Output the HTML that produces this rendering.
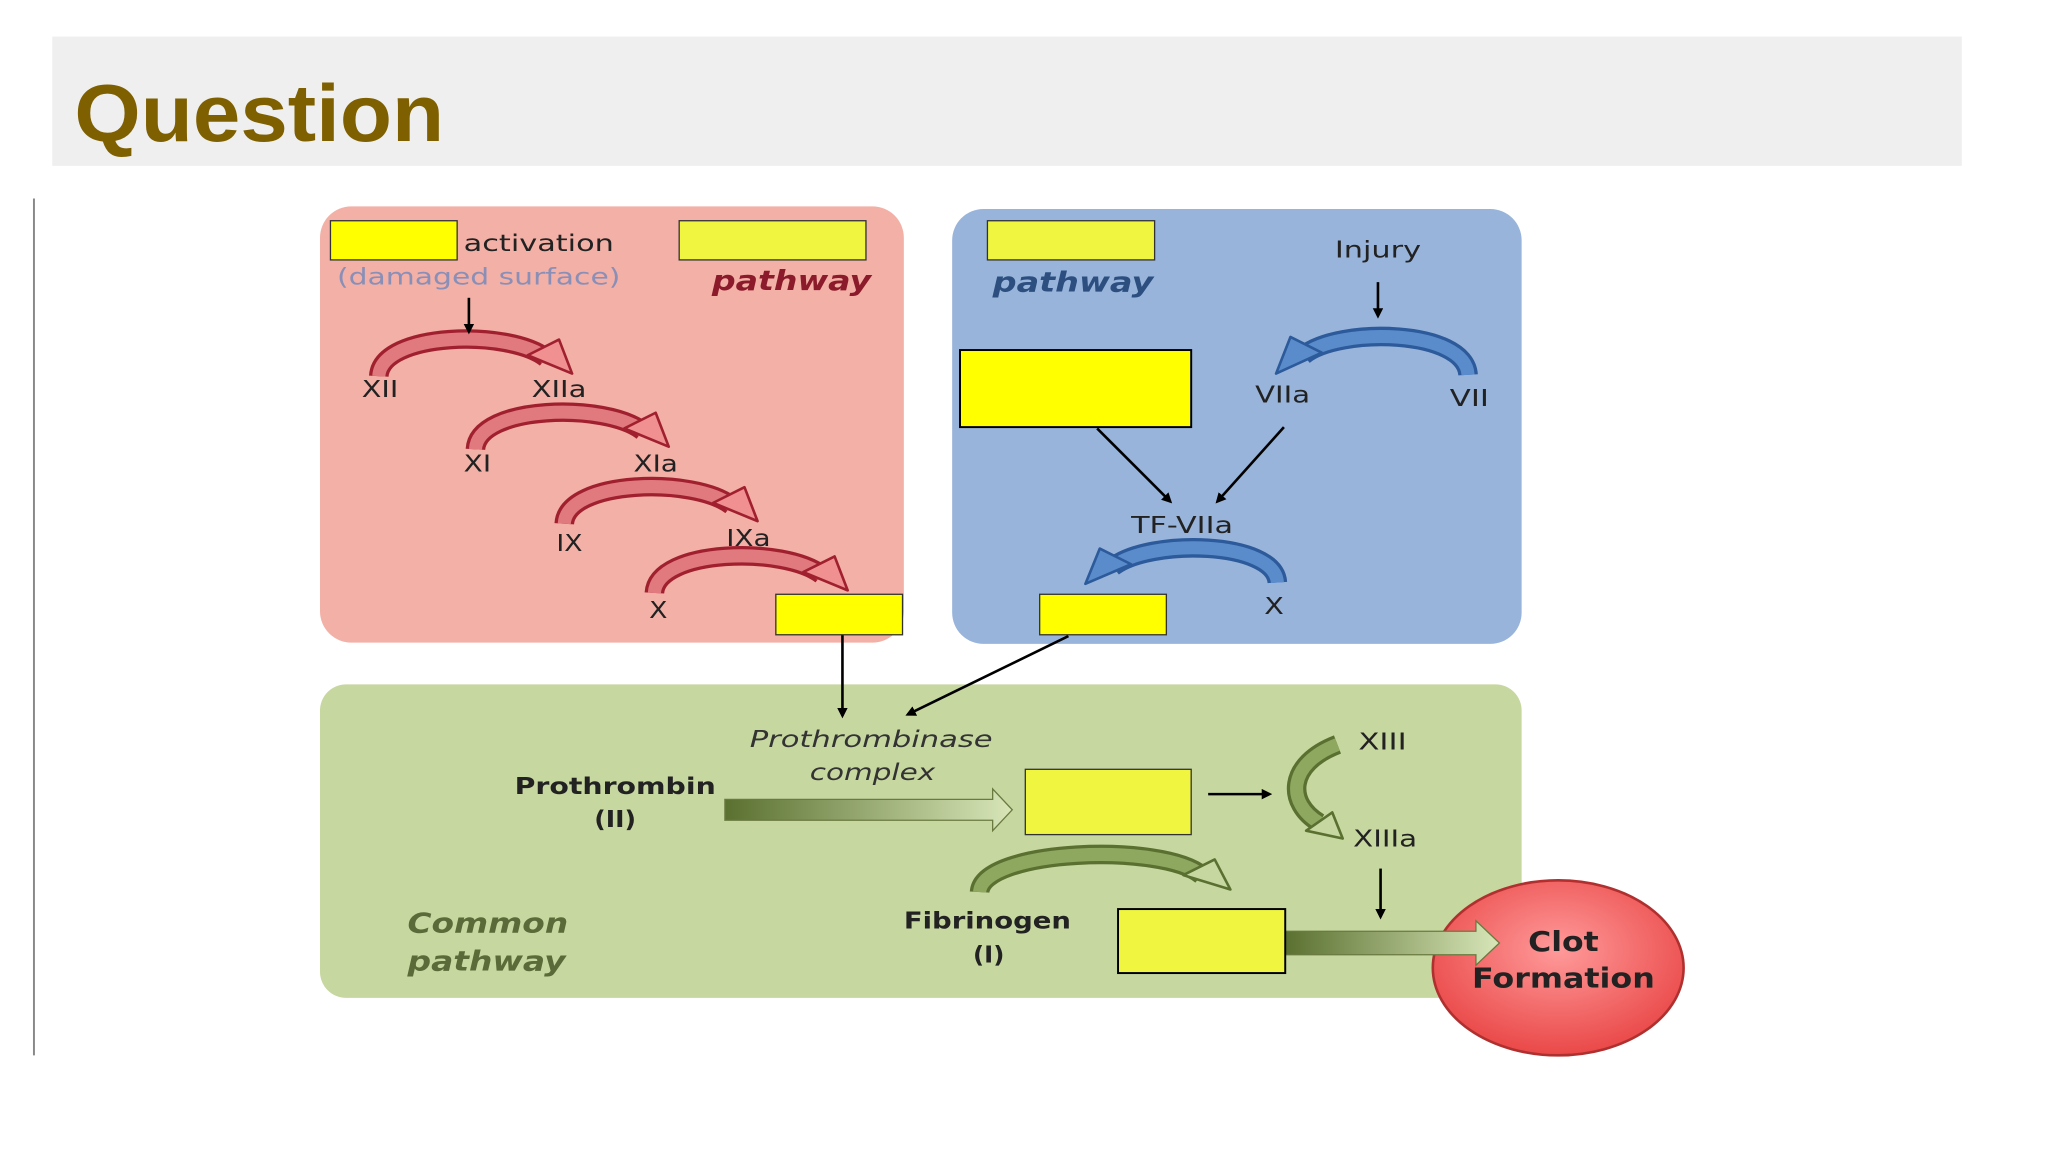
<!DOCTYPE html>
<html><head><meta charset="utf-8"><style>
html,body{margin:0;padding:0;background:#fff;width:2048px;height:1152px;overflow:hidden}
svg{display:block}
text{font-family:"DejaVu Sans","Liberation Sans",sans-serif}
</style></head><body>
<svg width="2048" height="1152" viewBox="0 0 1568 882" xmlns="http://www.w3.org/2000/svg">
<defs>
<linearGradient id="ga" x1="0" x2="1" y1="0" y2="0"><stop offset="0" stop-color="#5a7030"/><stop offset="1" stop-color="#d8e6b8"/></linearGradient>
<radialGradient id="rc" cx="0.5" cy="0.4" r="0.6"><stop offset="0" stop-color="#ff9a9a"/><stop offset="1" stop-color="#ea4848"/></radialGradient>
<marker id="ah" markerWidth="8" markerHeight="8" refX="6" refY="4" orient="auto" markerUnits="userSpaceOnUse"><path d="M0,0 L8,4 L0,8 Z" fill="#000"/></marker>
</defs>
<rect width="1568" height="882" fill="#fff"/>
<rect x="40" y="28" width="1462" height="99" fill="#efefef"/>
<text x="57" y="108" font-size="62" font-weight="bold" fill="#7f6000" style="font-family:'Liberation Sans',sans-serif" textLength="283" lengthAdjust="spacingAndGlyphs">Question</text>
<line x1="26" y1="152" x2="26" y2="808" stroke="#888" stroke-width="1.5"/>

<rect x="245" y="158" width="447" height="334" rx="24" fill="#f2b0a6"/>
<rect x="729" y="160" width="436" height="333" rx="24" fill="#98b4db"/>
<rect x="245" y="524" width="920" height="240" rx="20" fill="#c6d7a0"/>

<!-- red arcs -->
<g stroke-linejoin="round">
<path d="M290,288 C292,254 390,252 418,274" stroke="#a02030" stroke-width="15" fill="none"/>
<path d="M290,288 C292,254 390,252 418,274" stroke="#e07a7e" stroke-width="10" fill="none"/>
<polygon points="404,272 428,260 438,286" fill="#f09090" stroke="#a02030" stroke-width="2"/>
<path d="M364,344 C366,310 464,308 492,330" stroke="#a02030" stroke-width="15" fill="none"/>
<path d="M364,344 C366,310 464,308 492,330" stroke="#e07a7e" stroke-width="10" fill="none"/>
<polygon points="478,328 502,316 512,342" fill="#f09090" stroke="#a02030" stroke-width="2"/>
<path d="M432,401 C434,367 532,365 560,387" stroke="#a02030" stroke-width="15" fill="none"/>
<path d="M432,401 C434,367 532,365 560,387" stroke="#e07a7e" stroke-width="10" fill="none"/>
<polygon points="546,385 570,373 580,399" fill="#f09090" stroke="#a02030" stroke-width="2"/>
<path d="M501,454 C503,420 601,418 629,440" stroke="#a02030" stroke-width="15" fill="none"/>
<path d="M501,454 C503,420 601,418 629,440" stroke="#e07a7e" stroke-width="10" fill="none"/>
<polygon points="615,438 639,426 649,452" fill="#f09090" stroke="#a02030" stroke-width="2"/>
</g>
<!-- blue arcs -->
<g stroke-linejoin="round">
<path d="M1124,287 C1122,252 1025,250 998,272" stroke="#2c5a9a" stroke-width="15" fill="none"/>
<path d="M1124,287 C1122,252 1025,250 998,272" stroke="#5a8ccc" stroke-width="10" fill="none"/>
<polygon points="1012,270 988,258 977,286" fill="#5a8ccc" stroke="#2c5a9a" stroke-width="2"/>
<path d="M978,446 C976,414 880,412 852,434" stroke="#2c5a9a" stroke-width="15" fill="none"/>
<path d="M978,446 C976,414 880,412 852,434" stroke="#5a8ccc" stroke-width="10" fill="none"/>
<polygon points="866,432 842,420 831,447" fill="#5a8ccc" stroke="#2c5a9a" stroke-width="2"/>
</g>
<!-- green arcs -->
<g stroke-linejoin="round">
<path d="M750,683 C752,650 890,645 920,670" stroke="#5a7030" stroke-width="15" fill="none"/>
<path d="M750,683 C752,650 890,645 920,670" stroke="#8ea860" stroke-width="10" fill="none"/>
<polygon points="906,670 930,658 942,681" fill="#c6d7a0" stroke="#5a7030" stroke-width="2"/>
<path d="M1024,570 C985,585 985,615 1010,630" stroke="#5a7030" stroke-width="15" fill="none"/>
<path d="M1024,570 C985,585 985,615 1010,630" stroke="#8ea860" stroke-width="10" fill="none"/>
<polygon points="1000,636 1020,622 1028,642" fill="#c6d7a0" stroke="#5a7030" stroke-width="2"/>
</g>

<g stroke="#000" stroke-width="2" fill="none" marker-end="url(#ah)">
<line x1="359" y1="228" x2="359" y2="254"/>
<line x1="1055" y1="216" x2="1055" y2="242"/>
<line x1="840" y1="328" x2="896" y2="384"/>
<line x1="983" y1="327" x2="932" y2="384"/>
<line x1="645" y1="486" x2="645" y2="548"/>
<line x1="818" y1="487" x2="695" y2="547"/>
<line x1="925" y1="608" x2="972" y2="608"/>
<line x1="1057" y1="665" x2="1057" y2="702"/>
</g>

<polygon points="555,612 760,612 760,604 775,620 760,636 760,628 555,628" fill="url(#ga)" stroke="#6a7a40" stroke-width="1"/>

<g font-size="18" fill="#222">
<text x="355" y="192" textLength="115" lengthAdjust="spacingAndGlyphs">activation</text>
<text x="258" y="218" fill="#8a8fb8" textLength="217" lengthAdjust="spacingAndGlyphs">(damaged surface)</text>
<text x="545" y="222" font-size="21" font-weight="bold" font-style="italic" fill="#8b1a2a" textLength="122" lengthAdjust="spacingAndGlyphs">pathway</text>
<text x="760" y="223" font-size="21" font-weight="bold" font-style="italic" fill="#2c4f80" textLength="123" lengthAdjust="spacingAndGlyphs">pathway</text>
<text x="1022" y="197" textLength="66" lengthAdjust="spacingAndGlyphs">Injury</text>
<text x="277" y="304" textLength="28" lengthAdjust="spacingAndGlyphs">XII</text>
<text x="407" y="304" textLength="42" lengthAdjust="spacingAndGlyphs">XIIa</text>
<text x="355" y="361" textLength="21" lengthAdjust="spacingAndGlyphs">XI</text>
<text x="485" y="361" textLength="34" lengthAdjust="spacingAndGlyphs">XIa</text>
<text x="426" y="422" textLength="20" lengthAdjust="spacingAndGlyphs">IX</text>
<text x="556" y="418" textLength="34" lengthAdjust="spacingAndGlyphs">IXa</text>
<text x="497" y="473" textLength="14" lengthAdjust="spacingAndGlyphs">X</text>
<text x="961" y="308" textLength="42" lengthAdjust="spacingAndGlyphs">VIIa</text>
<text x="1110" y="311" textLength="30" lengthAdjust="spacingAndGlyphs">VII</text>
<text x="866" y="408" textLength="78" lengthAdjust="spacingAndGlyphs">TF-VIIa</text>
<text x="968" y="470" textLength="15" lengthAdjust="spacingAndGlyphs">X</text>
<text x="574" y="572" font-style="italic" fill="#333" textLength="186" lengthAdjust="spacingAndGlyphs">Prothrombinase</text>
<text x="620" y="597" font-style="italic" fill="#333" textLength="96" lengthAdjust="spacingAndGlyphs">complex</text>
<text x="394" y="608" font-weight="bold" textLength="154" lengthAdjust="spacingAndGlyphs">Prothrombin</text>
<text x="455" y="633" font-weight="bold" textLength="32" lengthAdjust="spacingAndGlyphs">(II)</text>
<text x="1040" y="574" textLength="37" lengthAdjust="spacingAndGlyphs">XIII</text>
<text x="1036" y="648" textLength="49" lengthAdjust="spacingAndGlyphs">XIIIa</text>
<text x="692" y="711" font-weight="bold" textLength="128" lengthAdjust="spacingAndGlyphs">Fibrinogen</text>
<text x="745" y="737" font-weight="bold" textLength="24" lengthAdjust="spacingAndGlyphs">(I)</text>
<text x="312" y="714" font-size="21" font-style="italic" font-weight="bold" fill="#5a6a38" textLength="123" lengthAdjust="spacingAndGlyphs">Common</text>
<text x="312" y="743" font-size="21" font-style="italic" font-weight="bold" fill="#5a6a38" textLength="121" lengthAdjust="spacingAndGlyphs">pathway</text>
</g>

<ellipse cx="1193" cy="741" rx="96" ry="67" fill="url(#rc)" stroke="#b03030" stroke-width="2"/>
<polygon points="984,713 1130,713 1130,705 1148,722 1130,739 1130,731 984,731" fill="url(#ga)" stroke="#6a7a40" stroke-width="1"/>
<text x="1170" y="728" font-size="21" font-weight="bold" fill="#222" textLength="54" lengthAdjust="spacingAndGlyphs">Clot</text>
<text x="1127" y="756" font-size="21" font-weight="bold" fill="#222" textLength="140" lengthAdjust="spacingAndGlyphs">Formation</text>

<g stroke="#333" stroke-width="1">
<rect x="253" y="169" width="97" height="30" fill="#ffff00"/>
<rect x="520" y="169" width="143" height="30" fill="#f0f640"/>
<rect x="756" y="169" width="128" height="30" fill="#f0f640"/>
<rect x="735" y="268" width="177" height="59" fill="#ffff00" stroke="#000" stroke-width="1.5"/>
<rect x="594" y="455" width="97" height="31" fill="#ffff00"/>
<rect x="796" y="455" width="97" height="31" fill="#ffff00"/>
<rect x="785" y="589" width="127" height="50" fill="#f0f640"/>
<rect x="856" y="696" width="128" height="49" fill="#f0f640" stroke="#000" stroke-width="1.5"/>
</g>
</svg>
</body></html>
